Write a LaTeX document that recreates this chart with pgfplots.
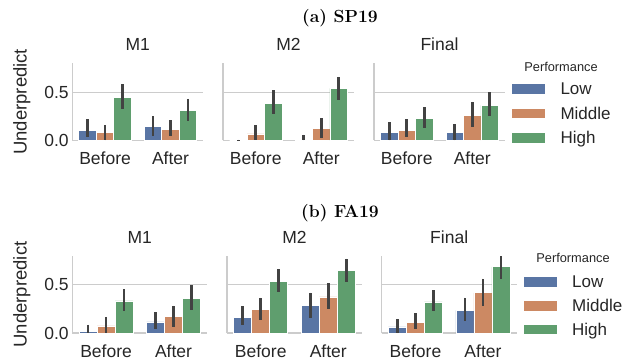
\documentclass[border=0pt]{standalone}
\usepackage{fontspec}
\setsansfont{Liberation Sans}
\usepackage{pgfplots}
\usepackage{pgfplotstable}
\pgfplotsset{compat=1.18}
\definecolor{cL}{HTML}{5975A4}
\definecolor{cM}{HTML}{CC8963}
\definecolor{cH}{HTML}{5F9E6E}
\definecolor{errc}{HTML}{424242}
\definecolor{gridc}{HTML}{CCCCCC}
\definecolor{txt}{HTML}{262626}
\newcommand\fs{\sffamily\fontsize{17.5}{17.5}\selectfont}
\newcommand\fy{\sffamily\fontsize{18.5}{18.5}\selectfont}
\newcommand\fl{\sffamily\fontsize{17}{17}\selectfont}
\newcommand\ft{\sffamily\fontsize{12.8}{12.8}\selectfont}
\newcommand\fh{\rmfamily\bfseries\fontsize{17.5}{17.5}\selectfont}

\pgfplotstableread{
x L Llo Lhi M Mlo Mhi H Hlo Hhi
0 0.107 0.03 0.217 0.08 0.0 0.16 0.448 0.324 0.58
1 0.145 0.045 0.25 0.11 0.04 0.21 0.314 0.2 0.43
}\tSPa
\pgfplotstableread{
x L Llo Lhi M Mlo Mhi H Hlo Hhi
0 0.0 0.0 0.008 0.066 0.007 0.156 0.38 0.27 0.52
1 0.01 0.0 0.06 0.125 0.024 0.23 0.54 0.42 0.66
}\tSPb
\pgfplotstableread{
x L Llo Lhi M Mlo Mhi H Hlo Hhi
0 0.083 0.0 0.186 0.107 0.03 0.217 0.224 0.128 0.345
1 0.083 0.0 0.17 0.26 0.14 0.40 0.362 0.248 0.497
}\tSPc
\pgfplotstableread{
x L Llo Lhi M Mlo Mhi H Hlo Hhi
0 0.02 0.0 0.087 0.073 0.0 0.167 0.333 0.23 0.455
1 0.115 0.04 0.22 0.17 0.066 0.285 0.36 0.24 0.497
}\tFAa
\pgfplotstableread{
x L Llo Lhi M Mlo Mhi H Hlo Hhi
0 0.163 0.08 0.28 0.247 0.135 0.368 0.54 0.427 0.663
1 0.285 0.16 0.42 0.375 0.247 0.517 0.65 0.535 0.774
}\tFAb
\pgfplotstableread{
x L Llo Lhi M Mlo Mhi H Hlo Hhi
0 0.0625 0.0 0.146 0.108 0.04 0.205 0.323 0.226 0.444
1 0.236 0.125 0.368 0.417 0.285 0.566 0.6875 0.566 0.80
}\tFAc

\newcommand\bars[1]{%
\addplot[fill=cL, bar shift=-0.266667] table[x=x,y=L,y error plus expr=\thisrow{Lhi}-\thisrow{L},y error minus expr=\thisrow{L}-\thisrow{Llo}]{#1};
\addplot[fill=cM, bar shift=0] table[x=x,y=M,y error plus expr=\thisrow{Mhi}-\thisrow{M},y error minus expr=\thisrow{M}-\thisrow{Mlo}]{#1};
\addplot[fill=cH, bar shift=0.266667] table[x=x,y=H,y error plus expr=\thisrow{Hhi}-\thisrow{H},y error minus expr=\thisrow{H}-\thisrow{Hlo}]{#1};
}

\pgfplotsset{
  panel/.style={
    scale only axis, height=77pt, ybar, bar width=0.266667,
    xmin=-0.5, xmax=1.5, ymin=0, ymax=0.8,
    xtick={0,1}, xticklabels={Before,After},
    ytick={0,0.5}, yticklabels={0.0,0.5},
    axis x line*=bottom, axis y line*=left,
    axis line style={draw=gridc, line width=1.2pt, -},
    major tick length=0pt,
    ymajorgrids, grid style={draw=gridc, line width=1pt},
    tick label style={font=\fs, text=txt},
    xticklabel style={anchor=base, inner sep=0pt, yshift=-24.3pt},
    yticklabel style={anchor=east, inner sep=0pt, xshift=-3.5pt},
    title style={font=\fs, text=txt, anchor=base, at={(0.5,1)}, yshift=7pt, inner sep=0pt},
    clip=false,
    every axis plot/.append style={draw=white, line width=0.8pt,
      error bars/y dir=both, error bars/y explicit, error bars/error mark=none,
      error bars/error bar style={draw=errc, line width=2.6pt}},
    legend image code/.code={\draw[#1, draw=white, line width=0.5pt] (0pt,-5.35pt) rectangle (34pt,5.35pt);},
    legend cell align=left,
  },
  noy/.style={yticklabels={}},
}

\begin{document}
\begin{tikzpicture}
\useasboundingbox (0pt,0pt) rectangle (631pt,-362pt);
% ---------- (a) SP19 ----------
\node[anchor=base, font=\fh, text=black] at (340pt,-22.5pt) {(a) SP19};
\begin{axis}[panel, width=131pt, at={(72.3pt,-140.3pt)}, anchor=south west, title={M1},
  ylabel={Underpredict}, ylabel style={font=\fy, text=txt, at={(axis description cs:-0.452,0.5)}, anchor=north, inner sep=0pt}]
\bars{\tSPa}
\end{axis}
\begin{axis}[panel, noy, width=131pt, at={(223pt,-140.3pt)}, anchor=south west, title={M2}]
\bars{\tSPb}
\end{axis}
\begin{axis}[panel, noy, width=131pt, at={(374pt,-140.3pt)}, anchor=south west, title={Final},
  legend style={at={(axis description cs:1.0458,0.766)}, anchor=north west, draw=none, fill=none,
    inner sep=0pt, outer sep=0pt, row sep=10.3pt, font=\fl, text=txt,
    nodes={inner sep=0pt, text height=13pt, text depth=1.4pt},
    /tikz/every odd column/.append style={column sep=15pt}}]
\bars{\tSPc}
\legend{Low,Middle,High}
\end{axis}
\node[anchor=base, font=\ft, text=txt] at (561pt,-71pt) {Performance};
% ---------- (b) FA19 ----------
\node[anchor=base, font=\fh, text=black] at (340pt,-217.5pt) {(b) FA19};
\begin{axis}[panel, width=135pt, at={(72.3pt,-333pt)}, anchor=south west, title={M1},
  ylabel={Underpredict}, ylabel style={font=\fy, text=txt, at={(axis description cs:-0.439,0.5)}, anchor=north, inner sep=0pt}]
\bars{\tFAa}
\end{axis}
\begin{axis}[panel, noy, width=135pt, at={(227pt,-333pt)}, anchor=south west, title={M2}]
\bars{\tFAb}
\end{axis}
\begin{axis}[panel, noy, width=135pt, at={(381.7pt,-333pt)}, anchor=south west, title={Final},
  legend style={at={(axis description cs:1.0444,0.762)}, anchor=north west, draw=none, fill=none,
    inner sep=0pt, outer sep=0pt, row sep=9.5pt, font=\fl, text=txt,
    nodes={inner sep=0pt, text height=13pt, text depth=1.4pt},
    /tikz/every odd column/.append style={column sep=15pt}}]
\bars{\tFAc}
\legend{Low,Middle,High}
\end{axis}
\node[anchor=base, font=\ft, text=txt] at (573pt,-262.3pt) {Performance};
\end{tikzpicture}
\end{document}
